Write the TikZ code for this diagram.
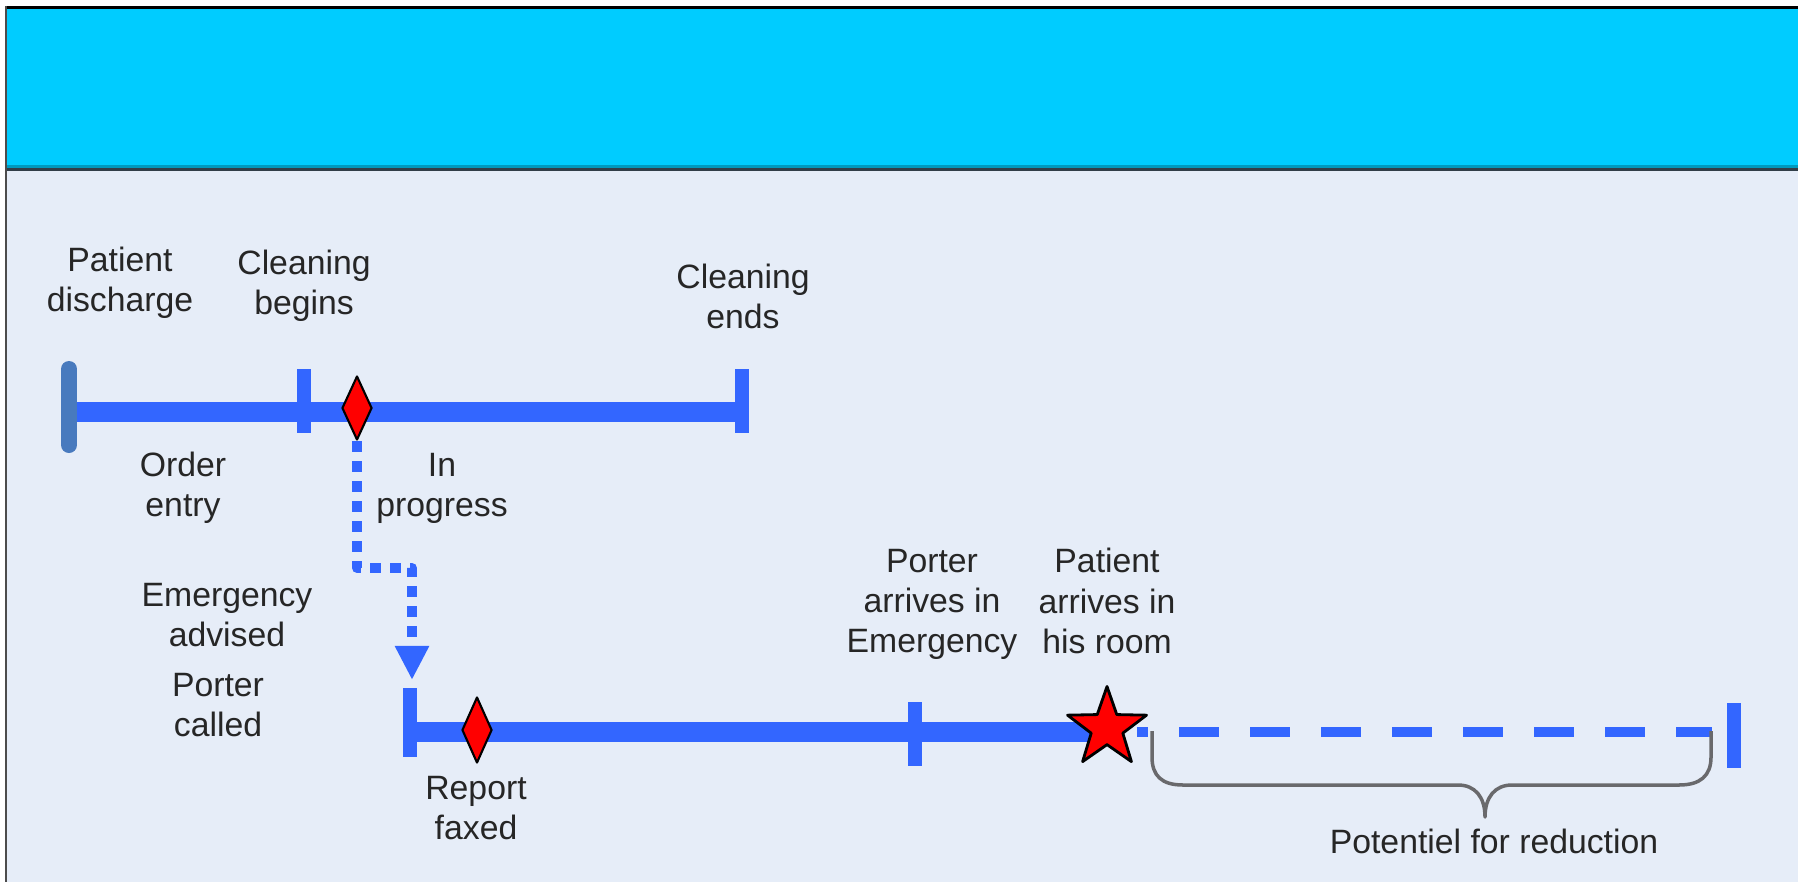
\documentclass[tikz,border=0pt]{standalone}
\usepackage{fontspec}
\setmainfont{Liberation Sans}
\usetikzlibrary{shapes.geometric,arrows.meta}
\definecolor{barblue}{RGB}{51,102,255}
\definecolor{capblue}{RGB}{72,122,190}
\definecolor{headcyan}{RGB}{0,204,255}
\definecolor{paper}{RGB}{230,237,248}
\definecolor{ink}{RGB}{38,38,38}
\definecolor{bracegray}{RGB}{105,105,108}
\definecolor{rimteal}{RGB}{0,153,190}
\definecolor{rimdark}{RGB}{50,62,72}
\begin{document}
\begin{tikzpicture}[x=0.01cm, y=-0.01cm, line join = round,
		lbl/.style={font=\fontsize{9.6}{11.4}\selectfont, text=ink, align=center, inner sep=0pt},
		bar/.style={barblue, line width=0.2cm},
		tick/.style={barblue, line width=0.14cm},
		gap/.style={barblue, line width=0.1cm, dash pattern=on 0.4cm off 0.31cm, dash phase=0.29cm},
		flow/.style={barblue, line width=0.1cm, dash pattern=on 0.11cm off 0.09cm, -{Triangle[width=0.32cm,length=0.34cm]}},
		gem/.style={diamond, draw=black, fill=red, line width=0.6pt, minimum width=0.3cm, minimum height=0.64cm, inner sep=0pt},
		starmark/.style={star, star points=5, star point ratio=2.5, draw=black, fill=red, line width=0.8pt, minimum size=0.83cm, inner sep=0pt}]
			\pgfmathsetmacro\ya{412}
			\pgfmathsetmacro\yb{732}
			% frame and header
			\fill[white] (0,0) rectangle (1798,882);
			\fill[paper] (6,170) rectangle (1798,882);
			\fill[headcyan] (6,8) rectangle (1798,166);
			\fill[rimteal] (6,165) rectangle (1798,168);
			\fill[rimdark] (6,168) rectangle (1798,171);
			\fill[black] (5,6) rectangle (1798,9);
			\fill[black!70] (5,6) rectangle (7,882);
			\useasboundingbox (0,0) rectangle (1798,882);
			% room cleaning
			\coordinate (disch) at (69,\ya);
			\coordinate (cbeg) at (304,\ya);
			\coordinate (cend) at (742,\ya);
			\draw[bar] (disch) -- (cend);
			\draw[capblue, line width=0.16cm, line cap=round] (disch) ++(0,-43) -- ++(0,76);
			\draw[tick] (cbeg) ++(0,-43) -- ++(0,64);
			\draw[tick] (cend) ++(0,-43) -- ++(0,64);
			\node[gem] (orderdia) at (357,408) {};
			% patient transfer
			\coordinate (callstart) at (410,\yb);
			\coordinate (porter) at (915,\yb);
			\coordinate (room) at (1107,\yb);
			\coordinate (gapend) at (1712,\yb);
			\coordinate (target) at (1734,\yb);
			\coordinate (bend) at (412,568);
			\draw[flow, shorten >=0.52cm] (orderdia.south) |- (bend) -- (bend |- callstart);
			\draw[bar] (callstart) -- (room);
			\draw[tick] (callstart) ++(0,-44) -- ++(0,69);
			\draw[tick] (porter) ++(0,-30) -- ++(0,64);
			\draw[gap] (room) ++(30,0) -- (gapend);
			\draw[tick] (target) ++(0,-29) -- ++(0,65);
			\node[gem, minimum height=0.66cm] (faxdia) at (477,730) {};
			\node[starmark] (roomstar) at (1107,728) {};
			% brace
			\draw[bracegray, line width=0.035cm] (1152,731) -- (1152,757) .. controls (1152,776) and (1162,785) .. (1183,785) -- (1458,785) .. controls (1475,785) and (1485,797) .. (1485,817) .. controls (1485,797) and (1495,785) .. (1512,785) -- (1679,785) .. controls (1700,785) and (1711,776) .. (1711,757) -- (1711,731);
			% labels
			\node[lbl] (tdisch) at (120,283) {Patient\\discharge};
			\node[lbl] (tcbeg) at (304,286) {Cleaning\\begins};
			\node[lbl] (tcend) at (743,296) {Cleaning\\ends};
			\node[lbl] (torder) at (183,488) {Order\\entry};
			\node[lbl] (tprog) at (442,488) {In\\progress};
			\node[lbl] (tadv) at (227,615) {Emergency\\advised};
			\node[lbl] (tcall) at (218,705) {Porter\\called};
			\node[lbl] (tfax) at (476,808) {Report\\faxed};
			\node[lbl] (tporter) at (932,604) {Porter\\arrives in\\Emergency};
			\node[lbl] (troom) at (1107,601) {Patient\\arrives in\\his room};
			\node[lbl] (tpot) at (1494,841) {Potentiel for reduction};
		\end{tikzpicture}
\end{document}
